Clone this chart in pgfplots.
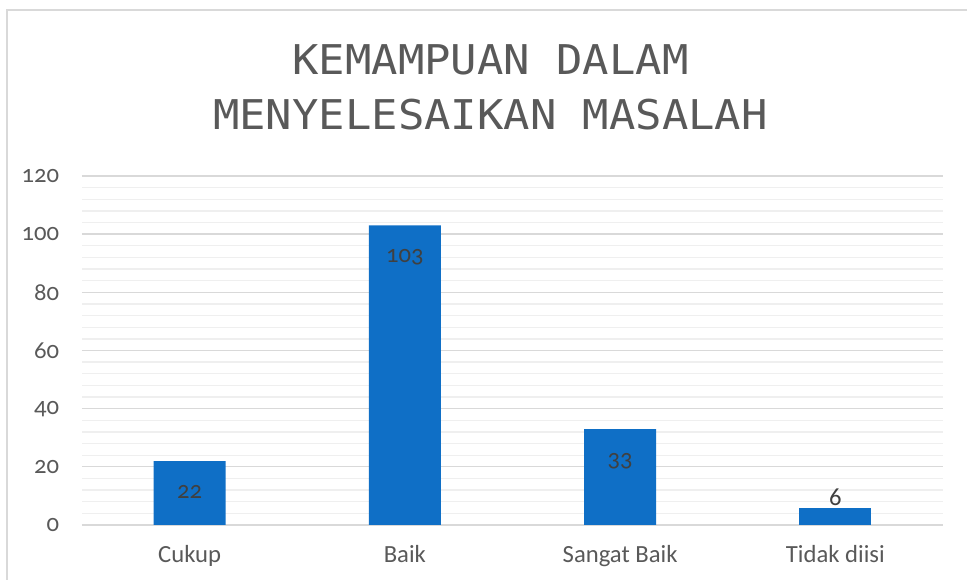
\documentclass[border=0pt]{standalone}
\usepackage{fontspec}
\setmainfont{Carlito}[Numbers=OldStyle]
\newfontfamily\titlefont{DejaVu Sans Mono}[FakeStretch=1.07]
\newfontfamily\liningfont{Carlito}
\usepackage{pgfplots}
\pgfplotsset{compat=1.18}
\definecolor{barblue}{HTML}{0F6FC6}
\definecolor{gridc}{HTML}{D9D9D9}
\definecolor{minorc}{HTML}{EFEFEF}
\definecolor{tickc}{HTML}{595959}
\definecolor{labelc}{HTML}{404040}
\begin{document}
\begin{tikzpicture}[x=0.75pt,y=0.75pt]
\useasboundingbox (0,0) rectangle (967,580);
\draw[color=gridc, line width=1.2pt] (7,0) -- (7,570) -- (967,570);
\node[font=\titlefont\fontsize{30.75}{41}\selectfont, text=tickc, anchor=base, inner sep=0pt] at (490.5,505) {KEMAMPUAN DALAM};
\node[font=\titlefont\fontsize{30.75}{41}\selectfont, text=tickc, anchor=base, inner sep=0pt] at (490.5,450) {MENYELESAIKAN MASALAH};
\begin{axis}[
  at={(61.5pt,41.25pt)}, anchor=south west,
  scale only axis, width=645.75pt, height=261.75pt,
  xmin=-0.5, xmax=3.5, ymin=0, ymax=120,
  ytick={0,20,...,120}, minor y tick num=4,
  xtick={0,1,2,3}, xticklabels={Cukup,Baik,Sangat Baik,Tidak diisi},
  ymajorgrids, yminorgrids,
  major grid style={gridc, line width=1pt},
  minor grid style={minorc, line width=1pt},
  axis x line*=bottom, axis y line*=left,
  y axis line style={draw=none},
  x axis line style={gridc, line width=1.3pt, -},
  major tick length=0pt, minor tick length=0pt,
  tick style={draw=none},
  /pgf/number format/assume math mode=true,
  tick label style={font=\fontsize{18.5}{22}\selectfont, text=tickc},
  yticklabel style={inner sep=0pt, anchor=east, xshift=-17pt},
  xticklabel style={inner sep=0pt, anchor=base, yshift=-28.5pt},
  clip=false,
]
\addplot[ybar, bar width=54pt, bar shift=0pt, fill=barblue, draw=none,
  nodes near coords,
  every node near coord/.style={anchor=base, inner sep=0pt, yshift=-27.75pt, text=labelc, font=\fontsize{18.5}{22}\selectfont}]
  coordinates {(0,22) (1,103) (2,33)};
\addplot[ybar, bar width=54pt, bar shift=0pt, fill=barblue, draw=none,
  nodes near coords,
  every node near coord/.style={anchor=base, inner sep=0pt, yshift=1.5pt, text=labelc, font=\liningfont\fontsize{18.5}{22}\selectfont}]
  coordinates {(3,6)};
\end{axis}
\end{tikzpicture}
\end{document}
